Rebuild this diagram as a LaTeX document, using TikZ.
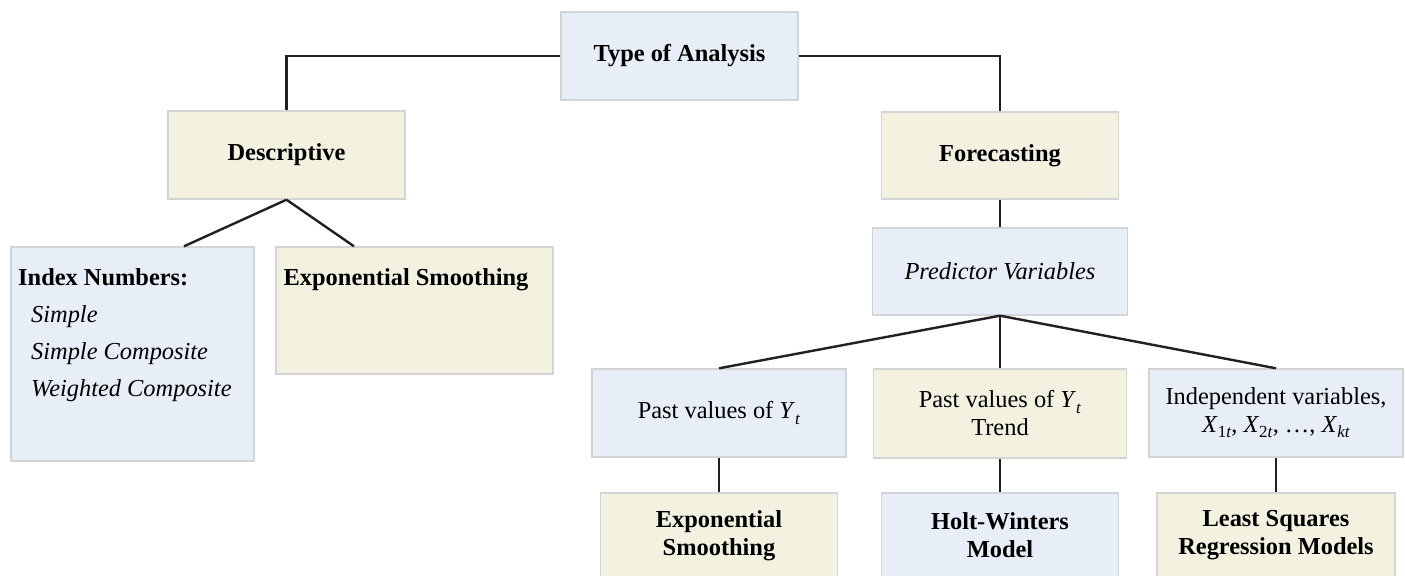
\documentclass[tikz,border=0pt]{standalone}
\usepackage{fontspec}
\setmainfont{Liberation Serif}
\definecolor{boxblue}{HTML}{E8EEF7}
\definecolor{boxyellow}{HTML}{F3F1DF}
\definecolor{boxline}{HTML}{D2D4D6}
\definecolor{linkline}{HTML}{231F20}
\newcommand{\subs}[1]{\raisebox{-0.45ex}{\fontsize{8.5}{9}\selectfont #1}}
\begin{document}
\begin{tikzpicture}
		[x=0.5pt,y=-0.5pt,
		box1/.style={rectangle,draw=boxline,fill=boxblue,line width=0.7pt,
inner sep=0pt,align=center,font=\fontsize{12.2}{14}\selectfont},
		box2/.style={box1,fill=boxyellow},
		textstyle/.style={inner sep=0pt,align=left,anchor=north west,
font=\fontsize{12.2}{18.5}\selectfont},
		edgestyle/.style={-,draw=linkline,line width=1.2pt}]
		\useasboundingbox (0,0) rectangle (1405,575);
		\clip (0,0) rectangle (1405,575);
		% top levels
		\node at (679.5,56) (type) [box1,minimum width=118.5pt,minimum height=44pt] {\textbf{Type of Analysis}};
		\node at (286.5,155) (desc) [box2,minimum width=118.5pt,minimum height=44pt] {\textbf{Descriptive}};
		\node at (1000,155.5) (fore) [box2,minimum width=118.5pt,minimum height=43.5pt] {\textbf{Forecasting}};
		% descriptive side
		\node at (132.5,354) (idx) [box1,minimum width=121.5pt,minimum height=107pt] {};
		\node at ([xshift=3.75pt,yshift=-10.7pt]idx.north west) (idxtext) [textstyle]
			{\textbf{Index Numbers:}\\ \hspace{6.5pt}\textit{Simple}\\ \hspace{6.5pt}\textit{Simple Composite}\\ \hspace{6.5pt}\textit{Weighted Composite}};
		\node at (414.5,310.5) (expl) [box2,minimum width=138.5pt,minimum height=63.5pt] {};
		\node at ([xshift=4pt,yshift=-10.7pt]expl.north west) (expltext) [textstyle] {\textbf{Exponential Smoothing}};
		% forecasting side
		\node at (1000,271.5) (pred) [box1,minimum width=127.5pt,minimum height=43.5pt] {\textit{Predictor Variables}};
		\node at (719,413) (past) [box1,minimum width=127pt,minimum height=44pt] {Past values of \textit{Y}\subs{\textit{t}}};
		\node at (1000,413.5) (trend) [box2,minimum width=126.5pt,minimum height=44.5pt] {Past values of \textit{Y}\subs{\textit{t}}\\ Trend};
		\node at (1276,413) (indep) [box1,minimum width=127pt,minimum height=44pt]
			{Independent variables,\\ \textit{X}\subs{1\textit{t}}, \textit{X}\subs{2\textit{t}}, \dots, \textit{X}\subs{\textit{kt}}};
		\node at (719,535.5) (expb) [box2,minimum width=118.5pt,minimum height=42.5pt] {\textbf{Exponential}\\ \textbf{Smoothing}};
		\node at (1000,535.5) (holt) [box1,minimum width=118.5pt,minimum height=42.5pt] {\textbf{Holt-Winters}\\ \textbf{Model}};
		\node at (1276,535.5) (lsq) [box2,minimum width=119pt,minimum height=42.5pt] {\textbf{Least Squares}\\ \textbf{Regression Models}};
		% connectors
		\draw[edgestyle] (type.west) -| (desc.north);
		\draw[edgestyle] (type.east) -| (fore.north);
		\draw[edgestyle] (desc.south) -- ([xshift=25.75pt]idx.north);
		\draw[edgestyle] (desc.south) -- ([xshift=-30.25pt]expl.north);
		\draw[edgestyle] (fore.south) -- (pred.north);
		\draw[edgestyle] (pred.south) -- (past.north);
		\draw[edgestyle] (pred.south) -- (trend.north);
		\draw[edgestyle] (pred.south) -- (indep.north);
		\draw[edgestyle] (past.south) -- (expb.north);
		\draw[edgestyle] (trend.south) -- (holt.north);
		\draw[edgestyle] (indep.south) -- (lsq.north);
	\end{tikzpicture}
\end{document}
